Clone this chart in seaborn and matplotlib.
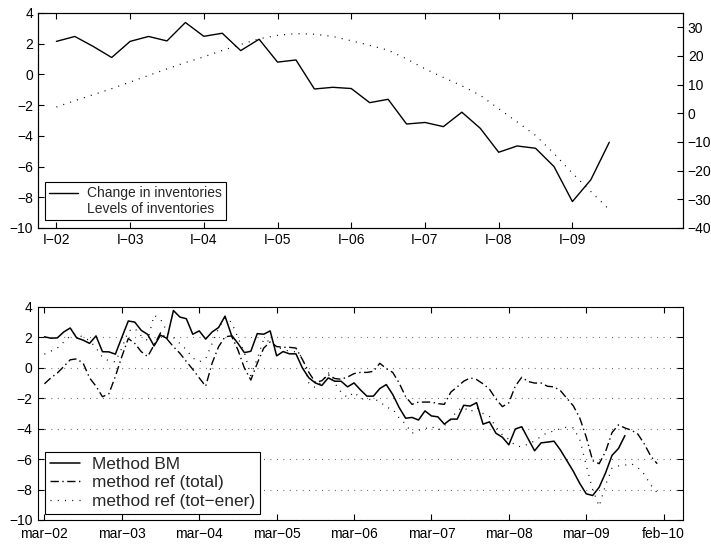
import matplotlib
matplotlib.use("Agg")
import matplotlib.pyplot as plt
from matplotlib.lines import Line2D
import numpy as np
import pandas as pd
import seaborn as sns

# quarterly series (top panel), starting I-02
change_inv = [2.15, 2.47, 1.82, 1.10,
              2.15, 2.47, 2.18, 3.38,
              2.48, 2.68, 1.55, 2.29,
              0.80, 0.94, -0.95, -0.84,
              -0.92, -1.84, -1.62, -3.23,
              -3.13, -3.40, -2.46, -3.51,
              -5.07, -4.66, -4.81, -6.00,
              -8.28, -6.86, -4.42]
level_inv = [2.2, 4.4, 6.5, 8.6, 10.9, 13.2, 15.5, 17.7, 19.7, 21.9,
             24.0, 26.0, 27.2, 27.8, 27.6, 26.8, 25.3, 23.7, 22.0, 19.0,
             15.5, 12.5, 9.6, 6.3, 1.6, -3.0, -7.7, -14.0, -20.9, -27.3,
             -33.6]
quarter_labels = ["I\u221202", "I\u221203", "I\u221204", "I\u221205",
                  "I\u221206", "I\u221207", "I\u221208", "I\u221209"]

# monthly series (bottom panel), starting mar-02
method_bm = [2.04, 1.95, 1.97, 2.36, 2.62, 1.97, 1.82, 1.61, 2.10, 1.06,
             1.05, 0.90, 2.00, 3.08, 3.01, 2.47, 2.20, 1.44, 2.15, 1.93,
             3.77, 3.34, 3.23, 2.21, 2.43, 1.89, 2.36, 2.65, 3.40, 2.15,
             1.61, 1.00, 1.09, 2.25, 2.21, 2.43, 0.79, 1.07, 0.92, 0.92,
             -0.01, -0.66, -0.99, -1.16, -0.66, -0.88, -0.88, -1.25, -0.99, -1.45,
             -1.86, -1.86, -1.36, -1.10, -1.75, -2.61, -3.31, -3.26, -3.43, -2.83,
             -3.16, -3.22, -3.70, -3.37, -3.37, -2.46, -2.51, -2.29, -3.70, -3.55,
             -4.30, -4.56, -5.06, -4.02, -3.87, -4.67, -5.45, -4.93, -4.88, -4.82,
             -5.40, -6.10, -6.80, -7.60, -8.28, -8.39, -7.85, -6.90, -5.75, -5.30,
             -4.45]
ref_total = [-1.05, -0.66, -0.34, 0.09, 0.53, 0.59, 0.31, -0.66, -1.21, -1.90,
             -1.70, -0.56, 0.74, 1.93, 1.61, 1.07, 0.74, 1.50, 2.30, 1.90,
             1.39, 0.96, 0.42, -0.10, -0.66, -1.21, 0.31, 1.39, 2.04, 2.10,
             1.18, -0.01, -0.80, 0.30, 1.30, 1.70, 1.40, 1.35, 1.35, 1.30,
             0.55, -0.30, -0.95, -0.85, -0.45, -0.70, -0.75, -0.60, -0.38, -0.30,
             -0.30, -0.23, 0.30, -0.05, -0.30, -1.00, -1.90, -2.40, -2.25, -2.25,
             -2.25, -2.35, -2.40, -1.60, -1.25, -0.88, -0.66, -0.77, -1.05, -1.40,
             -2.05, -2.55, -2.30, -1.20, -0.62, -0.90, -1.00, -1.00, -1.21, -1.25,
             -1.50, -2.00, -2.50, -3.30, -4.55, -6.10, -6.30, -5.50, -4.25, -3.75,
             -3.95, -4.10, -4.35, -5.00, -5.80, -6.30]
ref_tot_ener = [0.90, 1.10, 1.30, 1.70, 2.10, 2.25, 2.00, 1.80, 1.30, 0.70,
                0.45, 0.40, 1.30, 2.40, 2.60, 2.10, 1.80, 3.45, 3.20, 2.40,
                2.00, 1.60, 1.20, 0.65, 0.40, 0.60, 1.60, 2.60, 3.30, 3.00,
                2.00, 1.00, -0.50, 0.60, 1.90, 1.70, 1.40, 1.20, 1.10, 1.05,
                0.70, -1.00, -1.30, -0.90, -0.30, -1.00, -1.60, -1.95, -1.60, -2.00,
                -2.10, -2.05, -2.20, -2.60, -2.70, -3.30, -3.70, -4.30, -4.10, -4.00,
                -3.85, -4.10, -3.80, -3.40, -2.80, -2.60, -2.90, -2.60, -3.00, -3.20,
                -3.90, -4.40, -4.70, -5.10, -5.20, -5.00, -4.80, -4.50, -4.25, -4.15,
                -4.00, -3.90, -3.95, -4.70, -6.40, -8.00, -9.10, -7.70, -6.60, -6.45,
                -6.40, -6.30, -6.55, -7.00, -7.70, -8.20]
month_labels = ["mar\u221202", "mar\u221203", "mar\u221204", "mar\u221205",
                "mar\u221206", "mar\u221207", "mar\u221208", "mar\u221209",
                "feb\u221210"]

sns.set_style("ticks")
plt.rcParams['font.family'] = ['Liberation Sans', 'DejaVu Sans']
plt.rcParams['xtick.direction'] = 'in'
plt.rcParams['ytick.direction'] = 'in'
plt.rcParams['axes.edgecolor'] = 'black'
plt.rcParams['axes.linewidth'] = 0.8

DOT = (0, (0.8, 5))
DASHDOT = (0, (6, 2.5, 1, 2.5))

fig = plt.figure(figsize=(7.11, 5.45), dpi=100)
ax1 = fig.add_axes([0.0534, 0.5817, 0.9072, 0.3945])
ax2 = fig.add_axes([0.0534, 0.0459, 0.9072, 0.3908])

# ---- top panel ----
qdf = pd.DataFrame({"q": np.arange(len(change_inv)),
                    "change": change_inv, "level": level_inv})
sns.lineplot(data=qdf, x="q", y="change", ax=ax1, color="black", lw=1.0)
ax1.set_xlim(-1, 34)
ax1.set_ylim(-10, 4)
ax1.set_yticks(np.arange(-10, 5, 2))
ax1.set_xticks(np.arange(0, 29, 4))
ax1.set_xticklabels(quarter_labels)
ax1.set_xlabel("")
ax1.set_ylabel("")
ax1.tick_params(labelsize=10, length=4, width=0.8, top=True, right=True, colors="black")

ax1r = ax1.twinx()
sns.lineplot(data=qdf, x="q", y="level", ax=ax1r, color="black", lw=0.9, linestyle=DOT)
ax1r.set_ylim(-40, 35)
ax1r.set_yticks(np.arange(-40, 31, 10))
ax1r.set_ylabel("")
ax1r.tick_params(labelsize=10, length=4, width=0.8, direction="in", colors="black")
for sp in ax1r.spines.values():
    sp.set_linewidth(0.8)

handles = [Line2D([], [], color="black", lw=1.0),
           Line2D([], [], color="none")]
leg1 = ax1.legend(handles, ["Change in inventories", "Levels of inventories"],
                  loc="lower left", bbox_to_anchor=(0.011, 0.037), borderaxespad=0,
                  fontsize=10, fancybox=False, framealpha=1, edgecolor="black",
                  labelspacing=0.1, borderpad=0.3, handlelength=2.1, handletextpad=0.6)
leg1.get_frame().set_linewidth(0.8)

# ---- bottom panel ----
mdf = pd.DataFrame({"m": np.arange(len(ref_total)),
                    "total": ref_total, "totener": ref_tot_ener})
bdf = pd.DataFrame({"m": np.arange(len(method_bm)), "bm": method_bm})
sns.lineplot(data=bdf, x="m", y="bm", ax=ax2, color="black", lw=1.1, label="Method BM")
sns.lineplot(data=mdf, x="m", y="total", ax=ax2, color="black", lw=1.0,
             linestyle=DASHDOT, label="method ref (total)")
sns.lineplot(data=mdf, x="m", y="totener", ax=ax2, color="black", lw=0.9,
             linestyle=DOT, label="method ref (tot\u2212ener)")
ax2.set_xlim(-1, 99)
ax2.set_ylim(-10, 4)
ax2.set_yticks(np.arange(-10, 5, 2))
ax2.set_xticks(np.arange(0, 97, 12))
ax2.set_xticklabels(month_labels)
ax2.set_xlabel("")
ax2.set_ylabel("")
ax2.yaxis.grid(True, linestyle=DOT, color="0.35", lw=0.8)
ax2.tick_params(labelsize=10, length=4, width=0.8, top=True, right=True, colors="black")
ax2.tick_params(axis="x", pad=5)
ax2.tick_params(axis="y", pad=4)

leg2 = ax2.legend(loc="lower left", bbox_to_anchor=(0.011, 0.028), borderaxespad=0,
                  fontsize=12.4, fancybox=False, framealpha=1, edgecolor="black",
                  labelspacing=0.2, borderpad=0.3, handlelength=1.75, handletextpad=0.65)
leg2.get_frame().set_linewidth(0.8)

fig.savefig("out.png", dpi=100)
